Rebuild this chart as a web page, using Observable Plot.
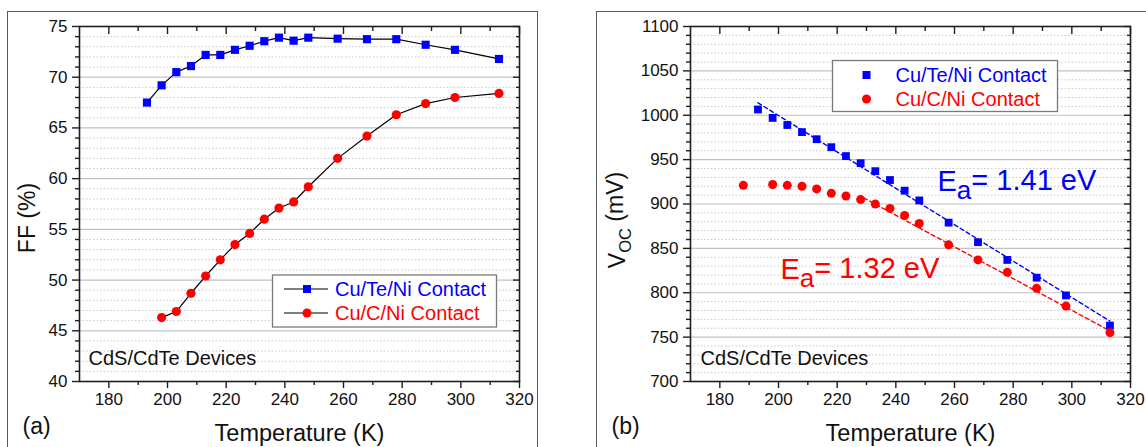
<!DOCTYPE html>
<html><head><meta charset="utf-8">
<script src="https://cdn.jsdelivr.net/npm/d3@7"></script>
<script src="https://cdn.jsdelivr.net/npm/@observablehq/plot@0.6"></script>
<style>
html,body{margin:0;padding:0;background:#fff;}
#wrap{position:relative;width:1146px;height:447px;overflow:hidden;font-family:"Liberation Sans",Arial,sans-serif;}
.pframe{position:absolute;border:1.5px solid #5a5a5a;box-sizing:border-box;}
.plot{position:absolute;top:0;}
</style></head><body><div id="wrap"></div>
<script>
// ---------- data ----------
const seriesNames = ["Cu/Te/Ni Contact", "Cu/C/Ni Contact"];
const seriesColors = ["#0000ff", "#ff0000"];

const ffTempTe = [193,198,203,208,213,218,223,228,233,238,243,248,258,268,278,288,298,313];
const ffTe     = [67.5,69.2,70.5,71.1,72.2,72.2,72.7,73.1,73.55,73.9,73.6,73.9,73.8,73.75,73.75,73.2,72.7,71.8];
const ffTempC  = [198,203,208,213,218,223,228,233,238,243,248,258,268,278,288,298,313];
const ffC      = [46.3,46.9,48.7,50.4,52.0,53.5,54.6,56.0,57.1,57.7,59.2,62.0,64.2,66.3,67.4,68.0,68.4];

const vocTempTe = [193,198,203,208,213,218,223,228,233,238,243,248,258,268,278,288,298,313];
const vocTe     = [1006.5,997,989,981,973,964,954,946,937,927,915,904,879,857,837,817,797,763];
const vocTempC  = [188,198,203,208,213,218,223,228,233,238,243,248,258,268,278,288,298,313];
const vocC      = [921,922,921,920,917,912,909,905,900,895,887,878,854,837,823,805,785,755];

const fitTempTe = [193,313];
const fitTe     = [1014,768];
const fitTempC  = [229,313];
const fitC      = [907,757];

const xDomain = [170,320];
const xMajor = [180,200,220,240,260,280,300,320];
const xMinor = [190,210,230,250,270,290,310];
const ffDomain = [40,75];
const ffMajor = [40,45,50,55,60,65,70,75];
const ffMinor = d3.range(41,75).filter(v => v % 5 !== 0);
const vocDomain = [700,1100];
const vocMajor = [700,750,800,850,900,950,1000,1050,1100];
const vocMinor = d3.range(710,1100,10).filter(v => v % 50 !== 0);

const ea1 = "Ea= 1.41 eV", ea2 = "Ea= 1.32 eV";
const deviceLabel = "CdS/CdTe Devices";
const xTitle = "Temperature (K)";
const ffTitle = "FF (%)";
const vocTitle = "VOC (mV)";

// ---------- helpers ----------
const rows = (xs, ys) => xs.map((t, i) => ({t, v: ys[i]}));
const FONT = '"Liberation Sans", Arial, sans-serif';
const fmt = d => String(d);

function frameAxes(major, minor) {
  const ink = "#1e1e1e";
  return [
    Plot.gridY(minor, {stroke: "#c8c8c8", strokeOpacity: 1, strokeDasharray: "1.5,2"}),
    Plot.gridY(major, {stroke: "#c2c2c2", strokeOpacity: 1, strokeWidth: 1.2}),
    Plot.axisX(xMajor, {anchor: "bottom", tickSize: 7, tickPadding: 4, fontSize: 17, tickFormat: fmt, label: null, stroke: ink, strokeWidth: 1.4, fill: "#111"}),
    Plot.axisX(xMinor, {anchor: "bottom", tickSize: 4, tickFormat: () => "", label: null, stroke: ink, strokeWidth: 1.4}),
    Plot.axisX(xMajor, {anchor: "top", tickSize: 7, dy: 7, tickFormat: () => "", label: null, stroke: ink, strokeWidth: 1.4}),
    Plot.axisX(xMinor, {anchor: "top", tickSize: 4, dy: 4, tickFormat: () => "", label: null, stroke: ink, strokeWidth: 1.4}),
    Plot.axisY(major, {anchor: "left", tickSize: 7, tickPadding: 5, fontSize: 17, tickFormat: fmt, label: null, stroke: ink, strokeWidth: 1.4, fill: "#111"}),
    Plot.axisY(minor, {anchor: "left", tickSize: 4, tickFormat: () => "", label: null, stroke: ink, strokeWidth: 1.4}),
    Plot.axisY(major, {anchor: "right", tickSize: 7, dx: -7, tickFormat: () => "", label: null, stroke: ink, strokeWidth: 1.4}),
    Plot.axisY(minor, {anchor: "right", tickSize: 4, dx: -4, tickFormat: () => "", label: null, stroke: ink, strokeWidth: 1.4}),
    Plot.frame({stroke: ink, strokeWidth: 1.6})
  ];
}

function rich(svg, content, parts) {
  d3.select(svg).selectAll("text").filter(function(){ return this.textContent === content; }).each(function(){
    const t = d3.select(this); t.text(null);
    parts.forEach(p => {
      const s = t.append("tspan").text(p.s);
      if (p.dy) s.attr("dy", p.dy);
      if (p.size) s.attr("font-size", p.size);
    });
  });
}

function yTitle(svg, content, x, y) {
  d3.select(svg).append("text")
    .attr("transform", `translate(${x},${y}) rotate(-90)`)
    .attr("text-anchor", "middle").attr("dy", "0.32em")
    .attr("font-family", FONT).attr("font-size", 23).attr("fill", "#111")
    .text(content);
}

function legend(svg, {x, y, w, h, rowY, lineX, markX, textX, withLine}) {
  const g = d3.select(svg).append("g");
  g.append("rect").attr("x", x).attr("y", y).attr("width", w).attr("height", h)
    .attr("fill", "#fff").attr("stroke", "#7a7a7a").attr("stroke-width", 1.3);
  seriesNames.forEach((name, i) => {
    const cy = rowY[i];
    if (withLine) g.append("line").attr("x1", lineX[0]).attr("x2", lineX[1]).attr("y1", cy).attr("y2", cy)
      .attr("stroke", "#000").attr("stroke-width", 1.2);
    if (i === 0) g.append("rect").attr("x", markX - 4).attr("y", cy - 4).attr("width", 8).attr("height", 8).attr("fill", seriesColors[i]);
    else g.append("circle").attr("cx", markX).attr("cy", cy).attr("r", 4.5).attr("fill", seriesColors[i]);
    g.append("text").attr("x", textX).attr("y", cy).attr("dy", "0.36em").attr("font-size", 20)
      .attr("text-anchor", "start")
      .attr("font-family", FONT).attr("fill", seriesColors[i]).text(name);
  });
}

const wrap = document.getElementById("wrap");
const fa = document.createElement("div"); fa.className = "pframe";
Object.assign(fa.style, {left: "7px", top: "11px", width: "531px", height: "470px"}); wrap.appendChild(fa);
const fb = document.createElement("div"); fb.className = "pframe";
Object.assign(fb.style, {left: "596px", top: "11px", width: "600px", height: "470px"}); wrap.appendChild(fb);

const baseStyle = {background: "transparent", fontFamily: FONT, color: "#1e1e1e", overflow: "visible", fontSize: "17px"};

// ---------- panel (a) ----------
const svgA = Plot.plot({
  width: 573, height: 447,
  marginLeft: 79, marginRight: 54, marginTop: 26, marginBottom: 66,
  style: baseStyle,
  x: {domain: xDomain},
  y: {domain: ffDomain},
  marks: [
    ...frameAxes(ffMajor, ffMinor),
    Plot.line(rows(ffTempTe, ffTe), {x: "t", y: "v", stroke: "#000", strokeWidth: 1.2}),
    Plot.line(rows(ffTempC, ffC), {x: "t", y: "v", stroke: "#000", strokeWidth: 1.2}),
    Plot.dot(rows(ffTempTe, ffTe), {x: "t", y: "v", symbol: "square", r: 4.6, fill: seriesColors[0]}),
    Plot.dot(rows(ffTempC, ffC), {x: "t", y: "v", symbol: "circle", r: 4.6, fill: seriesColors[1]}),
    Plot.text([deviceLabel], {frameAnchor: "bottom-left", lineAnchor: "middle", dx: 9, dy: -23, textAnchor: "start", fontSize: 20, fill: "#111"}),
    Plot.text([xTitle], {frameAnchor: "bottom", lineAnchor: "middle", dy: 52, fontSize: 23.5, fill: "#111"}),
    Plot.text(["(a)"], {frameAnchor: "bottom-left", lineAnchor: "middle", dx: -57, dy: 45, textAnchor: "start", fontSize: 23, fill: "#111"})
  ]
});
svgA.classList.add("plot"); svgA.style.left = "0px";
legend(svgA, {x: 272.5, y: 275, w: 224, h: 52, rowY: [289, 313], lineX: [284, 328], markX: 307, textX: 335, withLine: true});
yTitle(svgA, ffTitle, 28, 218);
wrap.appendChild(svgA);

// ---------- panel (b) ----------
const svgB = Plot.plot({
  width: 573, height: 447,
  marginLeft: 117, marginRight: 16, marginTop: 26, marginBottom: 66,
  style: baseStyle,
  x: {domain: xDomain},
  y: {domain: vocDomain},
  marks: [
    ...frameAxes(vocMajor, vocMinor),
    Plot.line(rows(fitTempTe, fitTe), {x: "t", y: "v", stroke: seriesColors[0], strokeWidth: 1.4, strokeDasharray: "4,3"}),
    Plot.line(rows(fitTempC, fitC), {x: "t", y: "v", stroke: seriesColors[1], strokeWidth: 1.4, strokeDasharray: "4,3"}),
    Plot.dot(rows(vocTempTe, vocTe), {x: "t", y: "v", symbol: "square", r: 4.4, fill: seriesColors[0]}),
    Plot.dot(rows(vocTempC, vocC), {x: "t", y: "v", symbol: "circle", r: 4.5, fill: seriesColors[1]}),
    Plot.text([ea1], {frameAnchor: "top-left", lineAnchor: "middle", dx: 247, dy: 155, textAnchor: "start", fontSize: 29, fill: seriesColors[0]}),
    Plot.text([ea2], {frameAnchor: "top-left", lineAnchor: "middle", dx: 90, dy: 243, textAnchor: "start", fontSize: 29, fill: seriesColors[1]}),
    Plot.text([deviceLabel], {frameAnchor: "bottom-left", lineAnchor: "middle", dx: 10, dy: -23, textAnchor: "start", fontSize: 20, fill: "#111"}),
    Plot.text([xTitle], {frameAnchor: "bottom", lineAnchor: "middle", dy: 52, fontSize: 23.5, fill: "#111"}),
    Plot.text(["(b)"], {frameAnchor: "bottom-left", lineAnchor: "middle", dx: -79, dy: 45, textAnchor: "start", fontSize: 23, fill: "#111"})
  ]
});
svgB.classList.add("plot"); svgB.style.left = "573px";
legend(svgB, {x: 259.5, y: 60.5, w: 225, h: 51, rowY: [75, 99], lineX: null, markX: 293.5, textX: 322.5, withLine: false});
yTitle(svgB, vocTitle, 45, 220);
rich(svgB, vocTitle, [{s: "V"}, {s: "OC", dy: "0.35em", size: "0.72em"}, {s: " (mV)", dy: "-0.35em"}]);
rich(svgB, ea1, [{s: "E"}, {s: "a", dy: "0.32em", size: "0.9em"}, {s: "= 1.41 eV", dy: "-0.32em"}]);
rich(svgB, ea2, [{s: "E"}, {s: "a", dy: "0.32em", size: "0.9em"}, {s: "= 1.32 eV", dy: "-0.32em"}]);
wrap.appendChild(svgB);
</script></body></html>
